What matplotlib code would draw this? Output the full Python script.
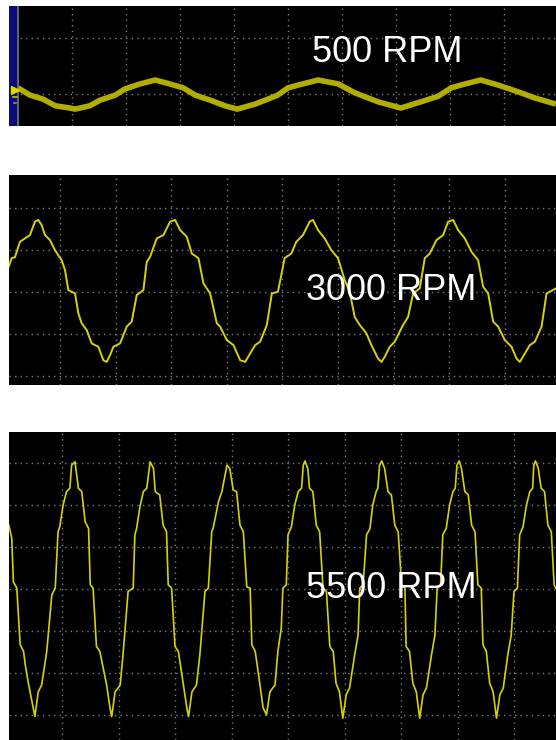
import numpy as np
import matplotlib
matplotlib.use('Agg')
import matplotlib.pyplot as plt

# scope traces, x in horizontal divisions, y in vertical divisions
t_500 = [0.00, 0.22, 0.46, 0.69, 0.96, 1.06, 1.33, 1.52, 1.80, 1.98, 2.26, 2.54,
         2.81, 3.06, 3.28, 3.56, 3.83, 4.06, 4.39, 4.63, 4.81, 5.00, 5.19, 5.56,
         5.93, 6.24, 6.67, 7.09, 7.46, 7.78, 8.02, 8.28, 8.57, 8.89, 9.26, 9.57, 9.96]
v_500 = [0.11, -0.02, -0.09, -0.21, -0.25, -0.27, -0.21, -0.11, -0.02, 0.09, 0.18, 0.25,
         0.18, 0.11, -0.02, -0.11, -0.21, -0.27, -0.18, -0.09, -0.02, 0.11, 0.16, 0.25,
         0.18, 0.02, -0.14, -0.25, -0.14, -0.04, 0.11, 0.18, 0.25, 0.16, 0.04, -0.07, -0.18]

t_3000 = [0.08, 0.13, 0.19, 0.28, 0.37, 0.46, 0.55, 0.61, 0.67, 0.73, 0.82, 0.91,
          1.03, 1.09, 1.15, 1.27, 1.33, 1.39, 1.48, 1.57, 1.69, 1.78, 1.84, 1.90,
          1.96, 2.08, 2.20, 2.29, 2.38, 2.50, 2.56, 2.62, 2.74, 2.86, 2.98, 3.07,
          3.16, 3.28, 3.37, 3.49, 3.58, 3.70, 3.82, 3.88, 4.00, 4.12, 4.24, 4.33,
          4.42, 4.51, 4.60, 4.72, 4.81, 4.92, 5.01, 5.04, 5.16, 5.25, 5.37, 5.49,
          5.55, 5.64, 5.76, 5.88, 6.00, 6.12, 6.21, 6.30, 6.39, 6.51, 6.60, 6.72,
          6.78, 6.84, 6.93, 7.02, 7.17, 7.26, 7.35, 7.47, 7.56, 7.65, 7.77, 7.89,
          7.98, 8.07, 8.16, 8.28, 8.40, 8.52, 8.61, 8.70, 8.79, 8.88, 9.00, 9.12,
          9.21, 9.27, 9.36, 9.45, 9.54, 9.66, 9.75, 9.92]
v_3000 = [0.60, 0.80, 0.82, 1.19, 1.27, 1.35, 1.67, 1.71, 1.59, 1.35, 1.23, 0.99,
          0.75, 0.52, 0.04, -0.04, -0.51, -0.75, -0.91, -1.23, -1.31, -1.63, -1.67, -1.51,
          -1.31, -1.23, -0.83, -0.71, -0.08, 0.04, 0.71, 0.83, 1.27, 1.35, 1.67, 1.71,
          1.47, 1.31, 0.91, 0.80, 0.20, -0.04, -0.75, -0.83, -1.15, -1.27, -1.63, -1.67,
          -1.47, -1.27, -1.19, -0.79, -0.04, 0.00, 0.60, 0.80, 0.91, 1.19, 1.35, 1.67,
          1.71, 1.47, 1.27, 0.99, 0.80, 0.28, 0.00, -0.60, -0.79, -0.99, -1.27, -1.59,
          -1.67, -1.55, -1.31, -1.19, -0.79, -0.60, -0.04, 0.08, 0.80, 0.91, 1.23, 1.35,
          1.67, 1.71, 1.47, 1.27, 0.95, 0.75, 0.12, -0.04, -0.71, -0.83, -1.15, -1.31,
          -1.59, -1.67, -1.47, -1.27, -1.19, -0.83, -0.04, 0.08]

t_5500 = [0.06, 0.11, 0.14, 0.20, 0.26, 0.32, 0.35, 0.40, 0.49, 0.52, 0.58, 0.64,
          0.73, 0.82, 0.88, 0.93, 0.96, 1.02, 1.08, 1.14, 1.17, 1.23, 1.29, 1.35,
          1.41, 1.47, 1.50, 1.55, 1.61, 1.67, 1.79, 1.85, 1.88, 1.94, 2.03, 2.08,
          2.17, 2.26, 2.29, 2.32, 2.38, 2.44, 2.50, 2.56, 2.62, 2.65, 2.73, 2.79,
          2.85, 2.88, 2.94, 3.00, 3.06, 3.15, 3.21, 3.24, 3.30, 3.38, 3.44, 3.53,
          3.59, 3.65, 3.68, 3.77, 3.83, 3.92, 3.97, 4.03, 4.09, 4.15, 4.21, 4.27,
          4.33, 4.36, 4.42, 4.50, 4.56, 4.62, 4.68, 4.77, 4.82, 4.88, 4.91, 4.97,
          5.00, 5.06, 5.12, 5.18, 5.24, 5.27, 5.30, 5.35, 5.38, 5.44, 5.50, 5.56,
          5.62, 5.68, 5.74, 5.80, 5.85, 5.91, 5.97, 6.03, 6.09, 6.18, 6.24, 6.27,
          6.33, 6.39, 6.45, 6.50, 6.56, 6.59, 6.62, 6.66, 6.71, 6.77, 6.83, 6.89,
          6.95, 7.01, 7.07, 7.09, 7.15, 7.21, 7.27, 7.33, 7.39, 7.45, 7.54, 7.60,
          7.64, 7.70, 7.74, 7.80, 7.86, 7.92, 7.96, 7.99, 8.03, 8.07, 8.13, 8.19,
          8.25, 8.31, 8.36, 8.42, 8.45, 8.51, 8.57, 8.63, 8.69, 8.75, 8.81, 8.89,
          8.95, 9.00, 9.06, 9.10, 9.16, 9.22, 9.28, 9.33, 9.35, 9.38, 9.43, 9.48,
          9.54, 9.60, 9.66, 9.71, 9.74]
v_5500 = [1.52, 1.21, 0.17, 0.02, -1.33, -1.49, -1.81, -2.21, -2.84, -3.04, -2.45, -2.29,
          -1.49, -0.14, 0.02, 1.36, 1.48, 2.00, 2.32, 2.40, 2.95, 3.03, 2.40, 2.32,
          1.60, 1.44, 0.10, 0.02, -1.37, -1.49, -2.29, -2.84, -3.04, -2.45, -2.29, -1.57,
          -0.06, 0.02, 1.29, 1.44, 1.96, 2.32, 2.40, 3.03, 2.87, 2.32, 2.24, 1.52,
          1.36, 0.10, 0.02, -1.37, -1.49, -2.29, -2.84, -3.04, -2.45, -2.29, -1.57, -0.06,
          0.02, 1.36, 1.48, 2.08, 2.32, 2.95, 2.87, 2.36, 2.32, 1.52, 1.36, 0.05,
          0.02, -1.33, -1.49, -2.25, -2.84, -3.00, -2.45, -2.29, -1.49, -0.94, 0.02, 0.10,
          1.29, 1.48, 2.00, 2.32, 2.40, 2.95, 3.05, 2.87, 2.40, 2.32, 1.52, 1.36,
          0.02, -0.06, -1.37, -1.49, -2.25, -2.45, -3.08, -2.52, -2.36, -1.57, -1.10, 0.02,
          0.10, 1.29, 1.44, 2.00, 2.32, 2.40, 2.95, 3.05, 2.87, 2.32, 2.24, 1.52,
          1.36, 0.10, 0.02, -1.37, -1.49, -2.25, -2.45, -3.08, -2.52, -2.36, -1.57, -1.10,
          0.02, 0.10, 1.29, 1.44, 2.00, 2.32, 2.40, 2.95, 3.05, 2.87, 2.32, 2.24,
          1.52, 1.36, 0.10, 0.02, -1.33, -1.49, -2.25, -2.45, -3.08, -2.52, -2.36, -1.57,
          -1.10, -0.06, 0.02, 1.29, 1.48, 2.00, 2.32, 2.40, 2.95, 3.05, 2.87, 2.40,
          2.32, 1.52, 1.36, 0.10, 0.02]

labels = ['500 RPM', '3000 RPM', '5500 RPM']
ch1_offset = 0.0

W, H = 556, 740
fig = plt.figure(figsize=(W / 100, H / 100), dpi=100)
fig.patch.set_facecolor('white')

def panel(top, bottom, xlim, ylim, yticks):
    ax = fig.add_axes([9 / W, (H - bottom) / H, 547 / W, (bottom - top) / H])
    ax.set_facecolor('black')
    ax.set_xlim(*xlim)
    ax.set_ylim(*ylim)
    ax.set_xticks(range(1, 10))
    ax.set_yticks(yticks)
    ax.grid(True, color='#7c7c7c', linestyle=(0, (1, 3)), lw=1)
    ax.tick_params(length=0, labelbottom=False, labelleft=False)
    for s in ax.spines.values():
        s.set_visible(False)
    return ax

ax1 = panel(6, 126, (-0.167, 9.963), (-0.571, 1.571), [0, 1])
ax1.axvspan(-0.167, -0.02, color='#0b0b7a', zorder=3)
ax1.axvline(0, color='#70708a', lw=1.2, zorder=3)
ax1.plot(t_500, v_500, color='#b2ae00', lw=4, solid_capstyle='butt', zorder=4)
ax1.plot([-0.06], [ch1_offset + 0.08], marker='>', ms=6, color='#e0d800', zorder=5)
ax1.plot([-0.1, -0.02], [ch1_offset - 0.06] * 2, color='#c8c000', lw=1.2, zorder=5)
ax1.plot([-0.08, -0.04], [ch1_offset - 0.16] * 2, color='#8a8a8a', lw=1.2, zorder=5)

ax2 = panel(175, 385, (0.083, 9.92), (-2.22, 2.78), [-2, -1, 0, 1, 2])
ax2.plot(t_3000, v_3000, color='#d6d400', lw=1.4, zorder=4)

ax3 = panel(432, 740, (0.062, 9.743), (-3.60, 3.74), [-3, -2, -1, 0, 1, 2, 3])
ax3.plot(t_5500, v_5500, color='#d6d400', lw=1.2, zorder=4)

for lab, (cx, base) in zip(labels, [(387, 62), (391, 300), (391, 598)]):
    fig.text(cx / W, 1 - base / H, lab, ha='center', va='baseline', fontsize=26,
             color='white', family=['Liberation Sans', 'DejaVu Sans'])

fig.savefig('out.png', dpi=100, facecolor='white')
